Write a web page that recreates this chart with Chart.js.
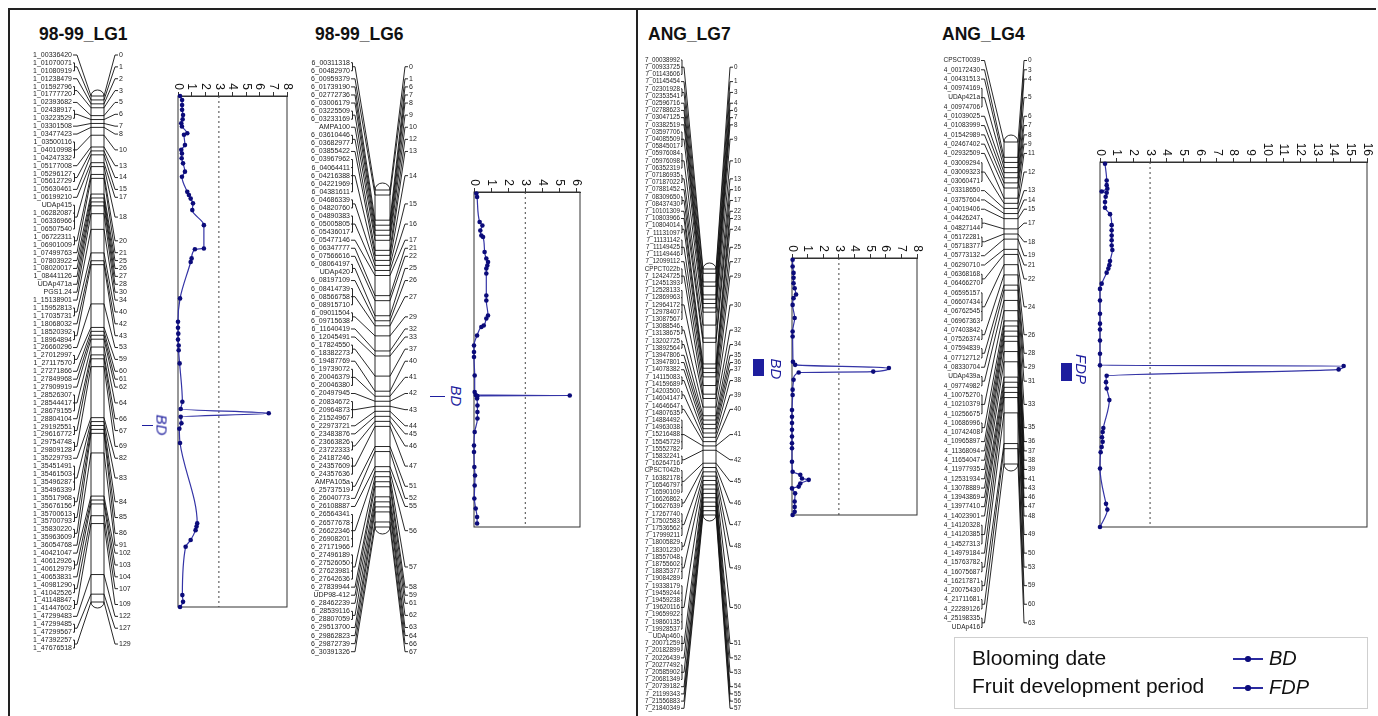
<!DOCTYPE html>
<html>
<head>
<meta charset="utf-8">
<script src="https://cdn.jsdelivr.net/npm/chart.js@4.4.1/dist/chart.umd.min.js"></script>
<style>
  body { margin: 0; background: #fff; }
  #page { position: relative; width: 1378px; height: 716px; overflow: hidden; background: #fff;
          font-family: "Liberation Sans", Arial, sans-serif; }
  canvas { position: absolute; }
  .title { position: absolute; top: 24px; font-weight: bold; font-size: 17.5px; color: #111; }
  .line { position: absolute; background: #222; }
  .qtl { position: absolute; color: #1e1e9e; font-style: italic; font-size: 15px; white-space: nowrap;
         transform: translate(-50%, -50%) rotate(90deg); }
  .qbar { position: absolute; background: #1e1e9e; }
  #legend { position: absolute; left: 954px; top: 637px; width: 412px; height: 70px; border: 1px solid #cfcfcf; }
  .ltext { position: absolute; left: 17px; font-size: 21px; color: #111; white-space: nowrap; }
  .lsym { position: absolute; left: 278px; width: 30px; height: 1.5px; background: #2a2aa0; }
  .lsym::after { content: ""; position: absolute; left: 12px; top: -2px; width: 5.5px; height: 5.5px; border-radius: 50%; background: #0c0c7c; }
  .lkey { position: absolute; font-style: italic; font-size: 20px; color: #111; }
</style>
</head>
<body>
<div id="page">
  <div class="line" style="left:8px;top:8px;width:1368px;height:1.5px"></div>
  <div class="line" style="left:8px;top:8px;width:1.5px;height:708px"></div>
  <div class="line" style="left:636px;top:8px;width:1.5px;height:708px"></div>

  <div class="title" style="left:39px">98-99_LG1</div>
  <div class="title" style="left:315px">98-99_LG6</div>
  <div class="title" style="left:648px">ANG_LG7</div>
  <div class="title" style="left:942px">ANG_LG4</div>

  <canvas id="map1"></canvas>
  <canvas id="map6"></canvas>
  <canvas id="map7"></canvas>
  <canvas id="map4"></canvas>
  <canvas id="lod1"></canvas>
  <canvas id="lod6"></canvas>
  <canvas id="lod7"></canvas>
  <canvas id="lod4"></canvas>

  <div class="qbar" style="left:142px;top:425px;width:11px;height:1.2px"></div>
  <div class="qtl" style="left:162px;top:425px">BD</div>
  <div class="qbar" style="left:430px;top:396px;width:15px;height:1.2px"></div>
  <div class="qtl" style="left:456px;top:396px">BD</div>
  <div class="qbar" style="left:753px;top:359px;width:11px;height:17px"></div>
  <div class="qtl" style="left:776px;top:369px">BD</div>
  <div class="qbar" style="left:1061px;top:363px;width:11px;height:18px"></div>
  <div class="qtl" style="left:1081px;top:369px">FDP</div>

  <div id="legend">
    <div class="ltext" style="top:8px">Blooming date</div>
    <div class="ltext" style="top:36px">Fruit development period</div>
    <div class="lsym" style="top:20px"></div>
    <div class="lsym" style="top:49px"></div>
    <div class="lkey" style="left:314px;top:9px">BD</div>
    <div class="lkey" style="left:314px;top:38px">FDP</div>
  </div>
</div>

<script>
// ---------- marker names and map positions (cM) ----------
const lg1Markers = ["1_00336420","1_01070071","1_01080919","1_01238479","1_01592796","1_01777720","1_02393682","1_02438917","1_03223529","1_03301508","1_03477423","1_03500116","1_04010998","1_04247332","1_05177008","1_05296127","1_05612729","1_05630461","1_06199210","UDAp415","1_06282087","1_06336966","1_06507540","1_06722311","1_06901009","1_07499763","1_07803922","1_08020017","1_08441126","UDAp471a","PGS1.24","1_15138901","1_15952813","1_17035731","1_18068032","1_18520392","1_18964894","1_26660296","1_27012997","1_27117570","1_27271866","1_27849968","1_27909919","1_28526307","1_28544417","1_28679155","1_28804104","1_29192551","1_29616772","1_29754748","1_29809128","1_35229793","1_35451491","1_35461503","1_35496287","1_35496339","1_35517968","1_35676156","1_35700613","1_35700793","1_35830220","1_35963609","1_36054768","1_40421047","1_40612926","1_40612979","1_40653831","1_40981290","1_41042526","1_41148847","1_41447602","1_47299483","1_47299485","1_47299567","1_47392257","1_47676518"];
const lg1Cm = [0,1,1,2,3,3,5,6,6,7,8,10,10,10,13,14,14,15,17,18,18,18,18,20,20,21,25,26,27,28,30,34,40,40,42,43,43,53,59,59,60,61,62,64,64,64,66,67,67,69,69,82,83,83,83,83,84,84,85,85,86,86,91,102,103,103,104,107,107,109,109,122,127,127,129,129];

const lg6Markers = ["6_00311318","6_00482970","6_00959379","6_01739190","6_02772736","6_03006179","6_03225509","6_03233169","AMPA100","6_03610446","6_03682977","6_03855422","6_03967962","6_04064411","6_04216388","6_04221969","6_04381611","6_04686339","6_04820760","6_04890383","6_05005805","6_05436017","6_05477146","6_06347777","6_07566616","6_08064197","UDAp420","6_08197109","6_08414739","6_08566758","6_08915710","6_09011504","6_09715638","6_11640419","6_12045491","6_17824550","6_18382273","6_19487769","6_19739072","6_20046379","6_20046380","6_20497945","6_20834672","6_20964873","6_21524967","6_22973721","6_23483876","6_23663826","6_23722333","6_24187246","6_24357609","6_24357636","AMPA105a","6_25737519","6_26040773","6_26108887","6_26564341","6_26577678","6_26622346","6_26908201","6_27171966","6_27496189","6_27526050","6_27623981","6_27642636","6_27839944","UDP98-412","6_28462239","6_28539116","6_28807059","6_29513700","6_29862823","6_29872739","6_30391326"];
const lg6Cm = [0,0,1,6,7,8,9,9,10,12,12,13,14,14,14,14,14,15,15,16,16,16,17,21,22,25,25,26,27,27,27,29,29,32,33,37,37,40,41,41,41,42,43,43,43,44,45,46,46,47,47,47,51,51,52,55,56,56,56,56,56,57,57,57,57,58,59,61,62,62,63,64,66,67];

const lg7Markers = ["7_00038992","7_00933725","7_01143606","7_01145454","7_02301928","7_02353541","7_02596716","7_02788623","7_03047125","7_03382519","7_03597706","7_04085509","7_05845017","7_05976084","7_05976098","7_06352319","7_07186935","7_07187022","7_07881452","7_08309650","7_08437430","7_10101309","7_10803966","7_10804014","7_11131097","7_11131142","7_11149425","7_11149446","7_12099112","CPPCT022b","7_12424725","7_12451393","7_12528133","7_12869963","7_12964172","7_12978407","7_13087567","7_13088546","7_13138675","7_13202725","7_13892564","7_13947806","7_13947801","7_14078382","7_14115083","7_14159689","7_14203500","7_14604147","7_14646647","7_14807635","7_14884492","7_14963038","7_15216488","7_15545729","7_15552782","7_15832241","7_16264716","CPSCT042b","7_16382178","7_16546797","7_16590109","7_16626862","7_16627639","7_17267740","7_17502583","7_17536562","7_17999211","7_18005829","7_18301230","7_18557048","7_18755602","7_18835377","7_19084289","7_19338179","7_19459244","7_19459238","7_19620116","7_19659922","7_19860135","7_19928537","UDAp460","7_20071259","7_20182899","7_20226439","7_20277492","7_20585902","7_20681349","7_20739182","7_21199343","7_21556883","7_21840349"];
const lg7Cm = [0,0,0,1,3,3,4,6,7,8,9,9,9,10,10,10,13,13,16,17,17,22,23,24,24,25,25,25,27,29,29,29,30,30,30,30,30,32,32,34,34,35,36,37,38,38,39,39,40,40,41,41,41,41,41,42,42,45,45,45,45,46,46,47,47,47,47,48,48,49,49,49,49,50,50,50,50,50,50,50,51,51,51,52,53,53,53,54,55,56,57];

const lg4Markers = ["CPSCT0039","4_00172430","4_00431513","4_00974169","UDAp421a","4_00974706","4_01039025","4_01083999","4_01542989","4_02467402","4_02932509","4_03009294","4_03009323","4_03060471","4_03318650","4_03757604","4_04019406","4_04426247","4_04827144","4_05172281","4_05718377","4_05773132","4_06290710","4_06368168","4_06466270","4_06595157","4_06607434","4_06762545","4_06967363","4_07403842","4_07526374","4_07594839","4_07712712","4_08330704","UDAp439a","4_09774982","4_10075270","4_10210379","4_10256675","4_10686996","4_10742408","4_10965897","4_11368094","4_11654047","4_11977935","4_12531934","4_13078889","4_13943869","4_13977410","4_14023901","4_14120328","4_14120385","4_14527313","4_14979184","4_15763782","4_16075687","4_16217871","4_20075430","4_21711681","4_22289126","4_25198335","UDAp416"];
const lg4Cm = [0,3,4,5,5,5,6,7,8,9,11,12,12,12,13,14,15,17,17,18,18,19,21,22,22,24,24,24,24,26,26,28,28,29,31,31,33,33,33,35,35,36,37,38,39,41,43,46,47,48,49,49,49,50,53,53,59,59,60,60,63,63];

// ---------- LOD profiles (position along group, LOD score) ----------
const bdLg1Pos = [0,1.0,2.3,3.5,4.8,5.9,6.9,7.7,9.4,9.8,12.4,13.6,14.5,15.7,17.0,19.1,20.4,24.2,25.0,25.9,27.1,28.8,32.6,38.5,38.7,41.0,41.9,51.1,57.0,58.5,60.0,61.5,63.0,64.2,67.5,77.2,79.0,80.1,81.0,82.6,84.0,87.6,107.9,108.7,109.6,112.1,113.8,126.0,127.7,129];
const bdLg1Lod = [0.15,0.3,0.3,0.3,0.37,0.34,0.24,0.29,0.68,0.44,0.51,0.24,0.29,0.27,0.37,0.51,0.29,0.68,0.8,0.93,1.1,1.05,1.9,1.9,1.24,1.0,0.93,0.15,0,0,0.02,0,0.05,0.05,0.12,0.32,0.2,6.66,0.2,0.25,0.1,0.15,1.41,1.36,1.29,0.93,0.56,0.32,0.37,0.15];

const bdLg6Pos = [0.3,1.0,6.0,6.7,7.7,8.7,9.0,12.0,13.3,14.0,14.7,15.3,16.3,20.7,21.7,24.7,25.3,26.7,27.0,28.7,30.7,32.0,33.0,36.7,40.0,40.6,40.7,40.8,41.3,42.7,44.0,45.3,48.0,50.7,52.0,55.0,56.7,58.7,61.3,63.3,65.0,66.3];
const bdLg6Lod = [0.14,0.18,0.33,0.49,0.37,0.43,0.53,0.62,0.72,0.82,0.78,0.72,0.72,0.72,0.72,0.82,0.72,0.57,0.43,0.18,0,0,0,0.04,0.04,0.1,5.6,0.2,0.18,0.2,0.2,0.2,0.04,0,0,0.02,0.06,0.04,0.02,0.1,0.18,0.18];

const bdLg7Pos = [0.4,1.9,3.3,4.4,5.6,6.7,8.1,8.9,10.4,13.3,16.3,17.4,23.0,23.7,24.4,25.2,25.4,27.0,29.2,30.4,33.7,35.2,36.6,38.1,39.6,41.1,42.2,45.2,47.4,48.1,48.9,49.2,50.0,50.7,51.1,52.2,54.0,55.2,56.3,57.0];
const bdLg7Lod = [0.04,0.04,0.1,0.1,0.1,0.17,0.26,0.1,0.04,0.17,0.04,0.04,0.06,0.2,6.2,5.2,0.43,0.1,0.04,0.04,0,0,0,0,0,0,0,0,0.04,0.53,0.64,1.07,0.53,0.43,0,0.2,0.17,0.17,0.17,0.04];

const fdpLg4Pos = [0.3,3.2,4.0,4.6,5.1,5.3,6.0,6.9,7.9,9.0,10.9,11.8,12.7,13.5,14.4,15.2,17.1,17.8,18.4,19.1,21.0,21.9,23.9,26.2,27.9,28.9,30.8,33.1,35.1,35.2,35.8,36.9,38.0,39.1,41.1,45.9,46.6,47.5,48.3,49.2,50.1,52.9,59.0,60.0,63.0];
const fdpLg4Lod = [0.3,0.4,0.4,0.44,0.1,0.4,0.34,0.3,0.3,0.6,0.7,0.7,0.7,0.7,0.7,0.74,0.6,0.56,0.5,0.4,0.1,0,0,0,0,0,0,0,0,14.6,14.3,0.4,0.36,0.4,0.56,0.2,0.16,0.12,0.16,0.1,0.04,0,0.36,0.44,0];

const lodThreshold = 3;

Chart.defaults.font.family = '"Liberation Sans", Arial, sans-serif';

// ================= LINKAGE MAP =================
// draws bar, marker names, brackets and cM labels through the chart's scales
function mapPlugin(names, cms, geo) {
    return {
        id: "linkageMap",
        afterDraw(chart) {
            const ctx = chart.ctx;
            const sx = chart.scales.x, sc = chart.scales.cm, ss = chart.scales.slot;
            const X = (v) => sx.getPixelForValue(v);
            const maxCm = Math.max(...cms);

            const groups = [];
            cms.forEach((c, i) => {
                const g = groups[groups.length - 1];
                if (g && g.cm === c) g.idx.push(i);
                else groups.push({ cm: c, idx: [i] });
            });

            const bl = X(geo.barL), br = X(geo.barR), bm = (bl + br) / 2;
            const yTop = sc.getPixelForValue(0), yBot = sc.getPixelForValue(maxCm);
            const xT = X(geo.textR), xB = X(geo.bracket), xS = X(geo.stub), xR = X(geo.rc);

            ctx.save();
            ctx.lineWidth = 0.9;
            ctx.strokeStyle = "#111";
            ctx.fillStyle = "#222";
            ctx.font = geo.font + 'px "Liberation Sans", Arial, sans-serif';
            ctx.textBaseline = "middle";

            // chromosome bar
            ctx.beginPath();
            ctx.moveTo(bl, yTop);
            ctx.ellipse(bm, yTop, (br - bl) / 2, geo.cap, 0, Math.PI, 2 * Math.PI);
            ctx.lineTo(br, yBot);
            ctx.ellipse(bm, yBot, (br - bl) / 2, geo.cap, 0, 0, Math.PI);
            ctx.closePath();
            ctx.fillStyle = "#fff";
            ctx.fill();
            ctx.stroke();
            ctx.fillStyle = "#222";

            ctx.beginPath();
            groups.forEach((g) => {
                const yc = sc.getPixelForValue(g.cm);
                const ys = g.idx.map((i) => ss.getPixelForValue(i));
                const ym = ss.getPixelForValue(g.idx.reduce((a, b) => a + b, 0) / g.idx.length);
                // tick across bar
                ctx.moveTo(bl, yc); ctx.lineTo(br, yc);
                // left side
                if (ys.length === 1) {
                    ctx.moveTo(xT + 1, ys[0]); ctx.lineTo(xS, ys[0]); ctx.lineTo(bl, yc);
                } else {
                    ys.forEach((y) => { ctx.moveTo(xT + 1, y); ctx.lineTo(xB, y); });
                    ctx.moveTo(xB, ys[0]); ctx.lineTo(xB, ys[ys.length - 1]);
                    ctx.moveTo(xB, ym); ctx.lineTo(xS, ym); ctx.lineTo(bl, yc);
                }
                // right side
                ctx.moveTo(br, yc); ctx.lineTo(xR, ym); ctx.lineTo(xR + 3, ym);
            });
            ctx.stroke();

            ctx.textAlign = "right";
            names.forEach((n, i) => ctx.fillText(n, xT, ss.getPixelForValue(i)));
            ctx.textAlign = "left";
            groups.forEach((g) => {
                const ym = ss.getPixelForValue(g.idx.reduce((a, b) => a + b, 0) / g.idx.length);
                ctx.fillText(String(g.cm), xR + 4, ym);
            });
            ctx.restore();
        },
    };
}

function drawMap(id, names, cms, geo) {
    const cv = document.getElementById(id);
    const H = 716;
    cv.width = geo.right - geo.left;
    cv.height = H;
    cv.style.left = geo.left + "px";
    cv.style.top = "0px";
    const maxCm = Math.max(...cms);
    const kc = maxCm / (geo.barBot - geo.barTop);
    const ks = (names.length - 1) / (geo.slotBot - geo.slotTop);

    new Chart(cv, {
        type: "scatter",
        data: { datasets: [] },
        options: {
            responsive: false,
            animation: false,
            devicePixelRatio: 1,
            layout: { padding: 0 },
            plugins: { legend: { display: false }, tooltip: { enabled: false } },
            scales: {
                x: { type: "linear", display: false, min: geo.left, max: geo.right },
                cm: { type: "linear", axis: "y", display: false, reverse: true,
                      min: -geo.barTop * kc, max: (H - geo.barTop) * kc },
                slot: { type: "linear", axis: "y", display: false, reverse: true,
                        min: -geo.slotTop * ks, max: (H - geo.slotTop) * ks },
            },
        },
        plugins: [mapPlugin(names, cms, geo)],
    });
}

// ================= LOD PROFILE =================
const framePlugin = {
    id: "frame",
    beforeDatasetsDraw(chart) {
        const { ctx, chartArea: a } = chart;
        ctx.save();
        ctx.strokeStyle = "#333";
        ctx.lineWidth = 1;
        ctx.strokeRect(a.left, a.top, a.right - a.left, a.bottom - a.top);
        ctx.restore();
    },
};

// tick labels turned like the rest of the rotated plot
const tickLabelPlugin = {
    id: "tickLabels",
    afterDraw(chart) {
        const { ctx, chartArea } = chart;
        const sc = chart.scales.x;
        ctx.save();
        ctx.font = '12px "Liberation Sans", Arial, sans-serif';
        ctx.fillStyle = "#111";
        ctx.textAlign = "right";
        ctx.textBaseline = "middle";
        sc.ticks.forEach((t) => {
            if (!Number.isInteger(t.value)) return;
            ctx.save();
            ctx.translate(sc.getPixelForValue(t.value), chartArea.top - 6);
            ctx.rotate(Math.PI / 2);
            ctx.fillText(String(t.value), 0, 0);
            ctx.restore();
        });
        ctx.restore();
    },
};

function drawLod(id, box, xMax, posMax, pos, lod) {
    const cv = document.getElementById(id);
    cv.width = box.w + 16;
    cv.height = box.h + 36;
    cv.style.left = box.x - 8 + "px";
    cv.style.top = box.y - 28 + "px";

    new Chart(cv, {
        type: "line",
        data: {
            datasets: [
                {
                    data: pos.map((p, i) => ({ x: lod[i], y: p })),
                    borderColor: "#3434a6",
                    borderWidth: 1.2,
                    pointRadius: 2.3,
                    pointBorderWidth: 0,
                    pointBackgroundColor: "#0b0b7a",
                    cubicInterpolationMode: "monotone",
                    clip: false,
                },
                {
                    data: [{ x: lodThreshold, y: 0 }, { x: lodThreshold, y: posMax }],
                    borderColor: "#444",
                    borderWidth: 1,
                    borderDash: [2, 3],
                    pointRadius: 0,
                },
            ],
        },
        options: {
            indexAxis: "y",
            responsive: false,
            animation: false,
            devicePixelRatio: 1,
            layout: { padding: { left: 8, right: 8, top: 24, bottom: 8 } },
            plugins: { legend: { display: false }, tooltip: { enabled: false } },
            scales: {
                x: {
                    type: "linear", position: "top", min: 0, max: xMax,
                    ticks: { display: false, stepSize: 1, includeBounds: false },
                    grid: { drawOnChartArea: false, drawTicks: true, tickLength: 4, color: "#333" },
                    border: { display: true, color: "#333" },
                },
                y: { type: "linear", min: 0, max: posMax, reverse: true, display: false },
            },
        },
        plugins: [framePlugin, tickLabelPlugin],
    });
}

drawMap("map1", lg1Markers, lg1Cm, {
    left: 10, right: 136, textR: 72, bracket: 74.5, stub: 77, barL: 91, barR: 104, rc: 115,
    barTop: 96, barBot: 602, cap: 6, slotTop: 55, slotBot: 648, font: 7,
});
drawMap("map6", lg6Markers, lg6Cm, {
    left: 300, right: 428, textR: 350, bracket: 352.5, stub: 355, barL: 375, barR: 390, rc: 405,
    barTop: 190, barBot: 527, cap: 7, slotTop: 62.7, slotBot: 651.7, font: 7,
});
drawMap("map7", lg7Markers, lg7Cm, {
    left: 638, right: 748, textR: 680, bracket: 682, stub: 684, barL: 703, barR: 716, rc: 730,
    barTop: 269, barBot: 515, cap: 6, slotTop: 60, slotBot: 708.3, font: 6.3,
});
drawMap("map4", lg4Markers, lg4Cm, {
    left: 937, right: 1050, textR: 980, bracket: 982, stub: 984.5, barL: 1004, barR: 1018, rc: 1024,
    barTop: 142, barBot: 464, cap: 7, slotTop: 60.5, slotBot: 627.5, font: 6.5,
});

drawLod("lod1", { x: 178, y: 96, w: 109, h: 511 }, 8, 129, bdLg1Pos, bdLg1Lod);
drawLod("lod6", { x: 474, y: 192, w: 106, h: 335 }, 6.2, 67, bdLg6Pos, bdLg6Lod);
drawLod("lod7", { x: 792, y: 258, w: 125, h: 257 }, 8, 57, bdLg7Pos, bdLg7Lod);
drawLod("lod4", { x: 1100, y: 162, w: 267, h: 365 }, 16, 63, fdpLg4Pos, fdpLg4Lod);
</script>
</body>
</html>
